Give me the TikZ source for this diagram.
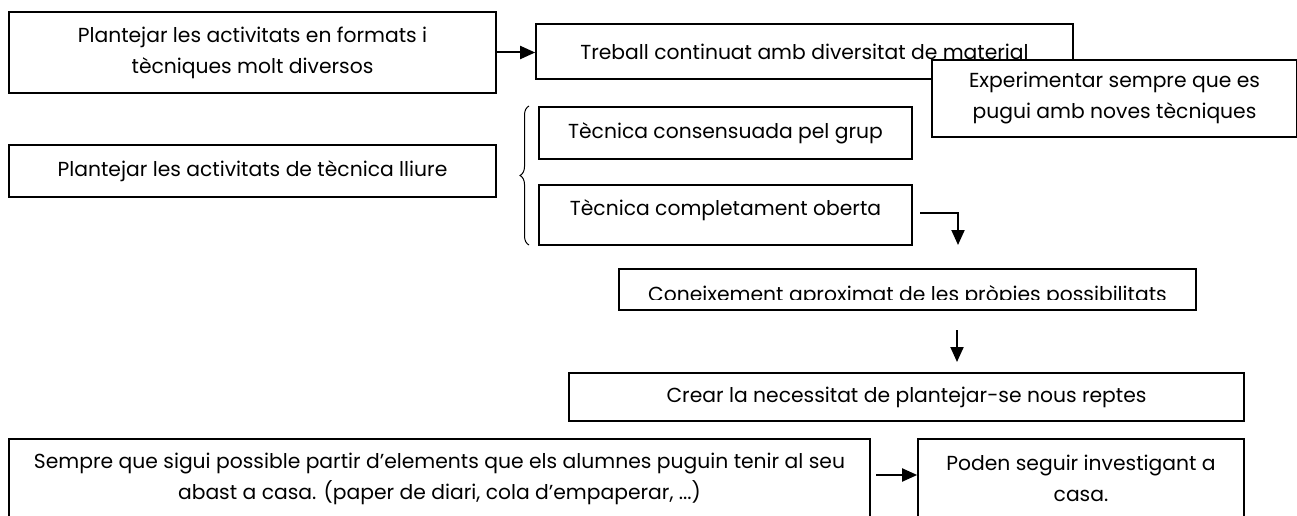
\documentclass[tikz,border=0pt]{standalone}
\usepackage{fontspec}
\setmainfont{Poppins}
\usetikzlibrary{arrows.meta,decorations.pathreplacing}
\begin{document}
\begin{tikzpicture}[x=1pt,y=-1pt,
    caixa/.style={draw,line width=1.7pt,fill=white,inner sep=0pt,align=center,
      font=\fontsize{20.3}{31}\selectfont},
    fletxa/.style={line width=2pt,-{Triangle[length=15pt,width=13pt]}}]
  \useasboundingbox (0,0) rectangle (1297,516);
  \clip (0,0) rectangle (1297,516);
  \node[caixa,minimum width=487pt,minimum height=81pt] (formats) at (252.5,52.5)
    {Plantejar les activitats en formats i\\tècniques molt diversos};
  \node[caixa,minimum width=537pt,minimum height=55pt] (treball) at (804.5,51.5)
    {Treball continuat amb diversitat de material};
  \node[caixa,minimum width=365pt,minimum height=77pt] (experimentar) at (1114.5,98.5)
    {Experimentar sempre que es\\pugui amb noves tècniques};
  \node[caixa,minimum width=487pt,minimum height=52pt] (lliure) at (252.5,171)
    {Plantejar les activitats de tècnica lliure};
  \node[caixa,minimum width=373pt,minimum height=52pt] (consensuada) at (725.5,133)
    {Tècnica consensuada pel grup};
  \node[caixa,minimum width=373pt,minimum height=60pt,text depth=14pt] (oberta) at (725.5,215)
    {Tècnica completament oberta};
  \begin{scope}
    \clip (619,269) rectangle (1196,299);
    \node[caixa,draw=none,fill=none,anchor=base] (coneixtext) at (907.5,301)
      {Coneixement aproximat de les pròpies possibilitats};
  \end{scope}
  \node[caixa,fill=none,minimum width=577pt,minimum height=41pt] (coneix) at (907.5,289.5) {};
  \node[caixa,minimum width=675pt,minimum height=48pt] (crear) at (906.5,397)
    {Crear la necessitat de plantejar-se nous reptes};
  \node[caixa,minimum width=861pt,minimum height=79pt] (sempre) at (439.5,478.5)
    {Sempre que sigui possible partir d’elements que els alumnes puguin tenir al seu\\
     abast a casa. (paper de diari, cola d’empaperar, ...)};
  \node[caixa,minimum width=326pt,minimum height=79pt] (poden) at (1081,478.5)
    {Poden seguir investigant a\\casa.};
  \draw[decorate,decoration={brace,amplitude=9pt},line width=1pt] (529,245) -- (529,106);
  \coordinate (obertaA) at (920,213);
  \coordinate (obertaB) at (958,245);
  \coordinate (coneixA) at (957,330);
  \coordinate (crearA) at (957,362);
  \coordinate (sempreA) at (876,475);
  \draw[fletxa] (formats.east) -- (formats.east -| treball.west);
  \draw[fletxa] (obertaA) -| (obertaB);
  \draw[fletxa] (coneixA) -- (crearA);
  \draw[fletxa] (sempreA) -- (sempreA -| poden.west);
\end{tikzpicture}
\end{document}
